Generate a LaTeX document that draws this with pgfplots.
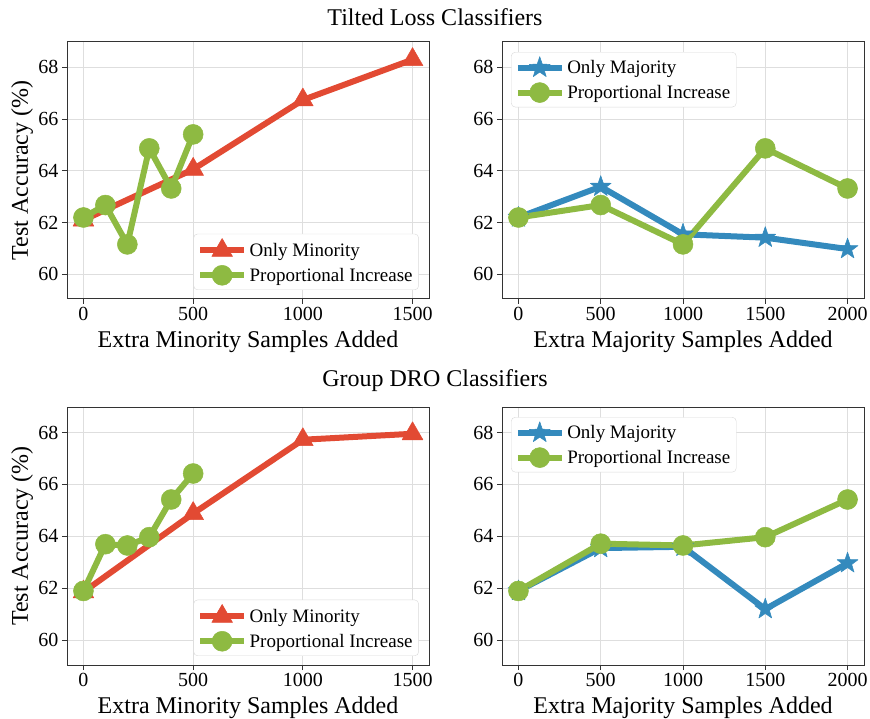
\documentclass[border=0pt]{standalone}
\usepackage{pgfplots}
\pgfplotsset{compat=1.18}
\usepackage{fontspec}
\setmainfont{Liberation Serif}

\definecolor{cred}{HTML}{E24A33}
\definecolor{cblue}{HTML}{348ABD}
\definecolor{cgreen}{HTML}{8EBA42}

% filled five-pointed star
\pgfdeclareplotmark{fstar}{%
  \pgfpathmoveto{\pgfpointpolar{90}{\pgfplotmarksize}}%
  \pgfpathlineto{\pgfpointpolar{126}{0.4\pgfplotmarksize}}%
  \pgfpathlineto{\pgfpointpolar{162}{\pgfplotmarksize}}%
  \pgfpathlineto{\pgfpointpolar{198}{0.4\pgfplotmarksize}}%
  \pgfpathlineto{\pgfpointpolar{234}{\pgfplotmarksize}}%
  \pgfpathlineto{\pgfpointpolar{270}{0.4\pgfplotmarksize}}%
  \pgfpathlineto{\pgfpointpolar{306}{\pgfplotmarksize}}%
  \pgfpathlineto{\pgfpointpolar{342}{0.4\pgfplotmarksize}}%
  \pgfpathlineto{\pgfpointpolar{18}{\pgfplotmarksize}}%
  \pgfpathlineto{\pgfpointpolar{54}{0.4\pgfplotmarksize}}%
  \pgfpathclose
  \pgfusepathqfillstroke
}

\pgfplotsset{
  panel/.style={
    scale only axis, width=362bp, height=257bp,
    ymin=59.05, ymax=68.98, ytick={60,62,...,68},
    grid=major, major grid style={line width=0.8bp, black!13},
    axis line style={line width=1bp, black!80},
    tick align=outside, xtick pos=bottom, ytick pos=left,
    major tick length=5bp, tick style={line width=0.8bp, black!80},
    scaled ticks=false,
    /pgf/number format/assume math mode=true,
    /pgf/number format/1000 sep={},
    ticklabel style={font=\fontsize{20bp}{24bp}\selectfont},
    label style={font=\fontsize{24bp}{29bp}\selectfont},
    xlabel style={yshift=-3bp},
    legend style={font=\fontsize{19bp}{23bp}\selectfont, draw=black!15,
      rounded corners=4bp, fill=white,
      inner xsep=3.5bp, inner ysep=4.5bp, row sep=5bp, nodes={inner sep=2.5bp},
      /tikz/every even column/.append style={column sep=11bp}},
    legend cell align=left,
    legend image code/.code={\draw[mark repeat=2,mark phase=2]
      plot coordinates {(0bp,0bp) (22bp,0bp) (44bp,0bp)};},
  },
  minpanel/.style={panel, xmin=-75, xmax=1575, xtick={0,500,1000,1500},
    xlabel={Extra Minority Samples Added}, ylabel={Test Accuracy (\%)},
    ylabel style={at={(axis description cs:-0.124,0.5)}, anchor=center},
    legend style={at={(0.972,0.035)}, anchor=south east}},
  majpanel/.style={panel, xmin=-100, xmax=2100, xtick={0,500,1000,1500,2000},
    xlabel={Extra Majority Samples Added},
    legend style={at={(0.025,0.961)}, anchor=north west}},
  redl/.style={cred, line width=6bp, line join=round, mark=triangle*, mark size=12bp,
    mark options={solid, line width=0.5bp}},
  bluel/.style={cblue, line width=6bp, line join=round, mark=fstar, mark size=11bp,
    mark options={solid, line width=0.5bp}},
  greenl/.style={cgreen, line width=6bp, line join=round, mark=*, mark size=10bp,
    mark options={solid, line width=0.5bp}},
}

\begin{document}
\begin{tikzpicture}
\useasboundingbox (0bp,0bp) rectangle (870bp,719bp);

\node[font=\fontsize{24bp}{29bp}\selectfont] at (435bp,702bp) {Tilted Loss Classifiers};
\node[font=\fontsize{24bp}{29bp}\selectfont] at (435bp,338bp) {Group DRO Classifiers};

% Tilted loss, extra minority samples
\begin{axis}[minpanel, at={(67bp,420bp)}, anchor=south west]
  \addplot[redl] coordinates {(0,62.1) (500,64.06) (1000,66.74) (1500,68.3)};
  \addlegendentry{Only Minority}
  \addplot[greenl] coordinates {(0,62.2) (100,62.68) (200,61.16) (300,64.87) (400,63.32) (500,65.41)};
  \addlegendentry{Proportional Increase}
\end{axis}

% Tilted loss, extra majority samples
\begin{axis}[majpanel, at={(502bp,420bp)}, anchor=south west]
  \addplot[bluel] coordinates {(0,62.2) (500,63.39) (1000,61.55) (1500,61.42) (2000,60.98)};
  \addlegendentry{Only Majority}
  \addplot[greenl] coordinates {(0,62.2) (500,62.68) (1000,61.16) (1500,64.87) (2000,63.32)};
  \addlegendentry{Proportional Increase}
\end{axis}

% Group DRO, extra minority samples
\begin{axis}[minpanel, height=258bp, at={(67bp,54bp)}, anchor=south west]
  \addplot[redl] coordinates {(0,61.86) (500,64.88) (1000,67.72) (1500,67.95)};
  \addlegendentry{Only Minority}
  \addplot[greenl] coordinates {(0,61.9) (100,63.7) (200,63.65) (300,63.97) (400,65.42) (500,66.42)};
  \addlegendentry{Proportional Increase}
\end{axis}

% Group DRO, extra majority samples
\begin{axis}[majpanel, height=258bp, at={(502bp,54bp)}, anchor=south west]
  \addplot[bluel] coordinates {(0,61.9) (500,63.55) (1000,63.6) (1500,61.2) (2000,62.97)};
  \addlegendentry{Only Majority}
  \addplot[greenl] coordinates {(0,61.9) (500,63.72) (1000,63.65) (1500,63.97) (2000,65.42)};
  \addlegendentry{Proportional Increase}
\end{axis}
\end{tikzpicture}
\end{document}
